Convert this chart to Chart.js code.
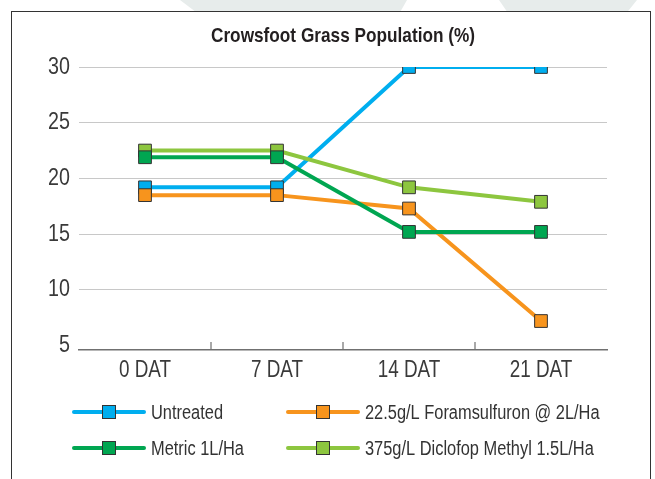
<!DOCTYPE html>
<html>
<head>
<meta charset="utf-8">
<script src="https://cdn.jsdelivr.net/npm/chart.js@4/dist/chart.umd.min.js"></script>
<style>
  html, body { margin: 0; padding: 0; background: #fff; }
  #wrap { position: relative; width: 655px; height: 479px; overflow: hidden; }
  .shape { position: absolute; top: 0; height: 12px; background: #e7eceb; }
  #s1 { left: 180px; width: 227px; clip-path: polygon(0 0, 100% 0, 97% 100%, 7% 100%); }
  #s2 { left: 499px; width: 138px; clip-path: polygon(0 0, 100% 0, 93% 100%, 6% 100%); }
  #frame { position: absolute; left: 11px; top: 11px; width: 638px; height: 500px;
           border: 1.5px solid #333; background: #fff; }
  canvas { position: absolute; left: 0; top: 0; }
</style>
</head>
<body>
<div id="wrap">
  <div class="shape" id="s1"></div>
  <div class="shape" id="s2"></div>
  <div id="frame"></div>
  <canvas id="chart" width="655" height="479"></canvas>
</div>
<script>
// no condensed font installed: draw text squeezed horizontally
const fontFam = "'Liberation Sans', Arial, sans-serif";
const squeeze = 0.82;

const chartTitle = "Crowsfoot Grass Population (%)";
const categories = ["0 DAT", "7 DAT", "14 DAT", "21 DAT"];
const yTicks = [5, 10, 15, 20, 25, 30];

const untreated = [19.2, 19.2, 30, 30];
const foramsulfuron = [18.5, 18.5, 17.3, 7.2];
const metric = [21.9, 21.9, 15.2, 15.2];
const diclofop = [22.5, 22.5, 19.2, 17.9];

const seriesNames = ["Untreated", "22.5g/L Foramsulfuron @ 2L/Ha", "Metric 1L/Ha", "375g/L Diclofop Methyl 1.5L/Ha"];
const seriesColors = ["#00aeef", "#f7941d", "#00a651", "#8dc63f"];

function mkSet(i, data, order) {
  return {
    label: seriesNames[i],
    data: data,
    borderColor: seriesColors[i],
    backgroundColor: seriesColors[i],
    borderWidth: 4,
    pointStyle: 'rect',
    pointRadius: 9,
    pointHoverRadius: 9,
    pointBackgroundColor: seriesColors[i],
    pointBorderColor: '#333',
    pointBorderWidth: 1,
    tension: 0,
    order: order
  };
}

function squeezedText(ctx, txt, x, y, align, font, color) {
  ctx.save();
  ctx.translate(x, y);
  ctx.scale(squeeze, 1);
  ctx.font = font;
  ctx.fillStyle = color;
  ctx.textAlign = align;
  ctx.textBaseline = 'middle';
  ctx.fillText(txt, 0, 0);
  ctx.restore();
}

// title, tick labels and the small upward ticks between categories
const axisText = {
  id: 'axisText',
  afterDraw(chart) {
    const x = chart.scales.x, y = chart.scales.y, ctx = chart.ctx, a = chart.chartArea;
    squeezedText(ctx, chartTitle, (a.left + a.right) / 2, a.top - 31, 'center', "bold 21px " + fontFam, '#231f20');
    y.ticks.forEach(t => {
      squeezedText(ctx, String(t.value), a.left - 9, y.getPixelForValue(t.value), 'right', "24px " + fontFam, '#3a3a3a');
    });
    categories.forEach((c, i) => {
      squeezedText(ctx, c, x.getPixelForValue(i), a.bottom + 21, 'center', "23px " + fontFam, '#3a3a3a');
    });
    ctx.save();
    ctx.strokeStyle = '#707070';
    ctx.lineWidth = 1.2;
    for (let i = 1; i < categories.length; i++) {
      const px = (x.getPixelForValue(i - 1) + x.getPixelForValue(i)) / 2;
      ctx.beginPath();
      ctx.moveTo(px, a.bottom - 8);
      ctx.lineTo(px, a.bottom);
      ctx.stroke();
    }
    ctx.restore();
  }
};

// two column legend with line + square marker
const lineLegend = {
  id: 'lineLegend',
  afterDraw(chart) {
    const ctx = chart.ctx, a = chart.chartArea;
    ctx.save();
    chart.data.datasets.forEach((ds, i) => {
      const x0 = a.left - 5 + (i % 2) * 214;
      const y = a.bottom + 62 + Math.floor(i / 2) * 36;
      ctx.strokeStyle = ds.borderColor;
      ctx.lineWidth = 4;
      ctx.lineCap = 'round';
      ctx.beginPath();
      ctx.moveTo(x0, y);
      ctx.lineTo(x0 + 70, y);
      ctx.stroke();
      ctx.fillStyle = ds.borderColor;
      ctx.fillRect(x0 + 28.5, y - 6.5, 13, 13);
      ctx.strokeStyle = '#333';
      ctx.lineWidth = 1;
      ctx.strokeRect(x0 + 28.5, y - 6.5, 13, 13);
      squeezedText(ctx, ds.label, x0 + 77, y + 1, 'left', "20px " + fontFam, '#333');
    });
    ctx.restore();
  }
};

new Chart(document.getElementById('chart'), {
  type: 'line',
  data: {
    labels: categories,
    datasets: [
      mkSet(0, untreated, 4),
      mkSet(1, foramsulfuron, 2),
      mkSet(2, metric, 1),
      mkSet(3, diclofop, 3)
    ]
  },
  options: {
    responsive: false,
    animation: false,
    layout: { padding: { top: 67, left: 79, right: 48, bottom: 129 } },
    plugins: {
      legend: { display: false },
      tooltip: { enabled: false },
      title: { display: false }
    },
    scales: {
      x: {
        offset: true,
        grid: { display: true, drawOnChartArea: false, drawTicks: false },
        border: { display: true, color: '#707070', width: 1.5 },
        ticks: { display: false }
      },
      y: {
        min: 4.6,
        max: 30,
        afterBuildTicks: (s) => { s.ticks = yTicks.map(v => ({ value: v })); },
        grid: {
          color: (c) => (c.tick && c.tick.value === 5) ? 'rgba(0,0,0,0)' : '#c8c8c8',
          lineWidth: 1,
          drawTicks: false
        },
        border: { display: false },
        ticks: { display: false }
      }
    }
  },
  plugins: [axisText, lineLegend]
});
</script>
</body>
</html>
